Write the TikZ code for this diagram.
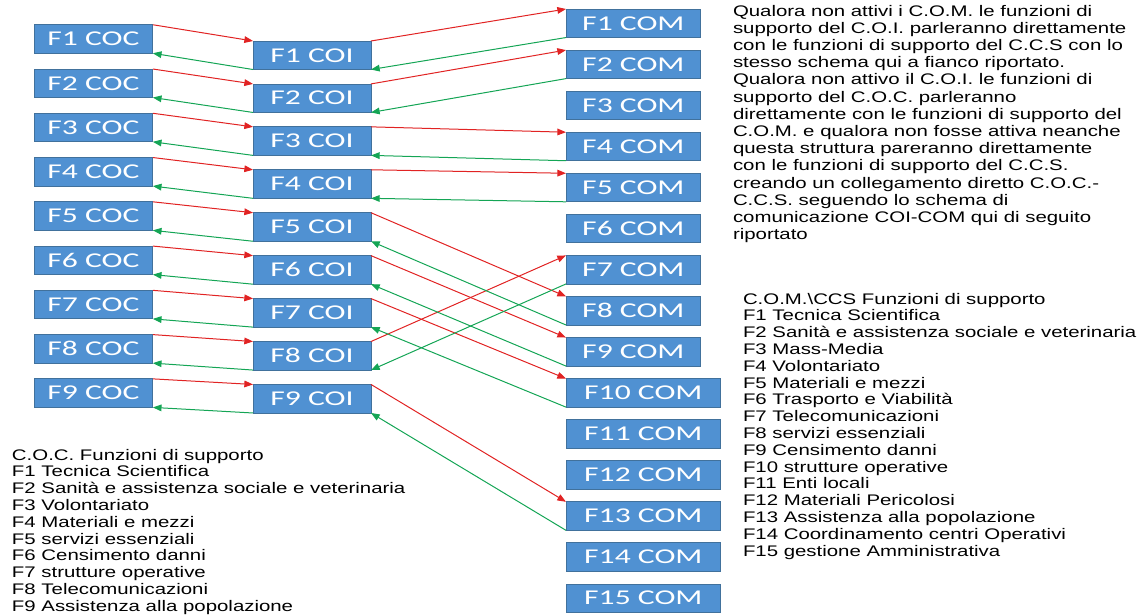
\documentclass[tikz,border=0pt]{standalone}
\usepackage{fontspec}
\setmainfont{Liberation Sans}
\newfontfamily\boxfont[FakeStretch=1.5]{Carlito}
\newfontfamily\notefont[FakeStretch=1.33]{Liberation Sans}
\usetikzlibrary{arrows.meta}
\usetikzlibrary{positioning}
\definecolor{boxblue}{RGB}{80,145,210}
\definecolor{boxline}{RGB}{65,113,156}
\definecolor{arrowred}{RGB}{225,35,35}
\definecolor{arrowgreen}{RGB}{20,165,85}

\begin{document}
\begin{tikzpicture}[
            x=0.75pt,y=-0.75pt,
            every node/.style={rectangle,inner sep=0pt,outer sep=0pt},
            fbox/.style={draw=boxline,fill=boxblue,text=white,line width=0.6pt,minimum height=21.4pt,font=\boxfont\fontsize{15.8}{18}\selectfont},
            coc box/.style={fbox,minimum width=89pt},
            coi box/.style={fbox,minimum width=88.5pt},
            com box/.style={fbox,minimum width=101pt},
            wide com box/.style={fbox,minimum width=116pt},
            note node/.style={align=left,anchor=north west,font=\notefont\fontsize{11.5}{12.6}\selectfont},
            send/.style={draw=arrowred,line width=0.75pt},
            reply/.style={draw=arrowgreen,line width=0.75pt}
        ]
        \tikzset{>={Triangle[length=6.5pt,width=5pt]}}
        \useasboundingbox (0,0) rectangle (1145,615);

        % C.O.C.
        \node [coc box] (coc 1) at (93.5,39) {F1 COC};
        \node [coc box,below=11.8pt of coc 1] (coc 2) {F2 COC};
        \node [coc box,below=11.8pt of coc 2] (coc 3) {F3 COC};
        \node [coc box,below=11.8pt of coc 3] (coc 4) {F4 COC};
        \node [coc box,below=11.8pt of coc 4] (coc 5) {F5 COC};
        \node [coc box,below=11.8pt of coc 5] (coc 6) {F6 COC};
        \node [coc box,below=11.8pt of coc 6] (coc 7) {F7 COC};
        \node [coc box,below=11.8pt of coc 7] (coc 8) {F8 COC};
        \node [coc box,below=11.8pt of coc 8] (coc 9) {F9 COC};

        % C.O.I.
        \node [coi box] (coi 1) at (312,55.25) {F1 COI};
        \node [coi box,below=10.8pt of coi 1] (coi 2) {F2 COI};
        \node [coi box,below=10.8pt of coi 2] (coi 3) {F3 COI};
        \node [coi box,below=10.8pt of coi 3] (coi 4) {F4 COI};
        \node [coi box,below=10.8pt of coi 4] (coi 5) {F5 COI};
        \node [coi box,below=10.8pt of coi 5] (coi 6) {F6 COI};
        \node [coi box,below=10.8pt of coi 6] (coi 7) {F7 COI};
        \node [coi box,below=10.8pt of coi 7] (coi 8) {F8 COI};
        \node [coi box,below=10.8pt of coi 8] (coi 9) {F9 COI};

        % C.O.M.
        \node [com box,anchor=north west] (com 1) at (566,9) {F1 COM};
        \node [com box,below=9.4pt of com 1.south west,anchor=north west] (com 2) {F2 COM};
        \node [com box,below=9.4pt of com 2.south west,anchor=north west] (com 3) {F3 COM};
        \node [com box,below=9.4pt of com 3.south west,anchor=north west] (com 4) {F4 COM};
        \node [com box,below=9.4pt of com 4.south west,anchor=north west] (com 5) {F5 COM};
        \node [com box,below=9.4pt of com 5.south west,anchor=north west] (com 6) {F6 COM};
        \node [com box,below=9.4pt of com 6.south west,anchor=north west] (com 7) {F7 COM};
        \node [com box,below=9.4pt of com 7.south west,anchor=north west] (com 8) {F8 COM};
        \node [com box,below=9.4pt of com 8.south west,anchor=north west] (com 9) {F9 COM};
        \node [wide com box,below=9.4pt of com 9.south west,anchor=north west] (com 10) {F10 COM};
        \node [wide com box,below=9.4pt of com 10.south west,anchor=north west] (com 11) {F11 COM};
        \node [wide com box,below=9.4pt of com 11.south west,anchor=north west] (com 12) {F12 COM};
        \node [wide com box,below=9.4pt of com 12.south west,anchor=north west] (com 13) {F13 COM};
        \node [wide com box,below=9.4pt of com 13.south west,anchor=north west] (com 14) {F14 COM};
        \node [wide com box,below=9.4pt of com 14.south west,anchor=north west] (com 15) {F15 COM};

        % testi
        \node [note node,font=\notefont\fontsize{11.5}{12.9}\selectfont] (note top) at (733,5) {Qualora non attivi i C.O.M. le funzioni di\\ supporto del C.O.I. parleranno direttamente\\ con le funzioni di supporto del C.C.S con lo\\ stesso schema qui a fianco riportato.\\ Qualora non attivo il C.O.I. le funzioni di\\ supporto del C.O.C. parleranno\\ direttamente con le funzioni di supporto del\\ C.O.M. e qualora non fosse attiva neanche\\ questa struttura pareranno direttamente\\ con le funzioni di supporto del C.C.S.\\ creando un collegamento diretto C.O.C.-\\ C.C.S. seguendo lo schema di\\ comunicazione COI-COM qui di seguito\\ riportato};
        \node [note node] (note com) at (743,293) {C.O.M.\textbackslash CCS Funzioni di supporto\\ F1 Tecnica Scientifica\\ F2 Sanità e assistenza sociale e veterinaria\\ F3 Mass-Media\\ F4 Volontariato\\ F5 Materiali e mezzi\\ F6 Trasporto e Viabilità\\ F7 Telecomunicazioni\\ F8 servizi essenziali\\ F9 Censimento danni\\ F10 strutture operative\\ F11 Enti locali\\ F12 Materiali Pericolosi\\ F13 Assistenza alla popolazione\\ F14 Coordinamento centri Operativi\\ F15 gestione Amministrativa};
        \node [note node] (note coc) at (12,449) {C.O.C. Funzioni di supporto\\ F1 Tecnica Scientifica\\ F2 Sanità e assistenza sociale e veterinaria\\ F3 Volontariato\\ F4 Materiali e mezzi\\ F5 servizi essenziali\\ F6 Censimento danni\\ F7 strutture operative\\ F8 Telecomunicazioni\\ F9 Assistenza alla popolazione};

        % COC <-> COI
        \draw[send,->] (coc 1.north east) -- (coi 1.north west);
        \draw[send,->] (coc 2.north east) -- (coi 2.north west);
        \draw[send,->] (coc 3.north east) -- (coi 3.north west);
        \draw[send,->] (coc 4.north east) -- (coi 4.north west);
        \draw[send,->] (coc 5.north east) -- (coi 5.north west);
        \draw[send,->] (coc 6.north east) -- (coi 6.north west);
        \draw[send,->] (coc 7.north east) -- (coi 7.north west);
        \draw[send,->] (coc 8.north east) -- (coi 8.north west);
        \draw[send,->] (coc 9.north east) -- (coi 9.north west);
        \draw[reply,->] (coi 1.south west) -- (coc 1.south east);
        \draw[reply,->] (coi 2.south west) -- (coc 2.south east);
        \draw[reply,->] (coi 3.south west) -- (coc 3.south east);
        \draw[reply,->] (coi 4.south west) -- (coc 4.south east);
        \draw[reply,->] (coi 5.south west) -- (coc 5.south east);
        \draw[reply,->] (coi 6.south west) -- (coc 6.south east);
        \draw[reply,->] (coi 7.south west) -- (coc 7.south east);
        \draw[reply,->] (coi 8.south west) -- (coc 8.south east);
        \draw[reply,->] (coi 9.south west) -- (coc 9.south east);

        % COI <-> COM
        \draw[send,->] (coi 1.north east) -- (com 1.north west);
        \draw[send,->] (coi 2.north east) -- (com 2.north west);
        \draw[send,->] (coi 3.north east) -- (com 4.north west);
        \draw[send,->] (coi 4.north east) -- (com 5.north west);
        \draw[send,->] (coi 5.north east) -- (com 8.north west);
        \draw[send,->] (coi 6.north east) -- (com 9.north west);
        \draw[send,->] (coi 7.north east) -- (com 10.north west);
        \draw[send,->] (coi 8.north east) -- (com 7.north west);
        \draw[send,->] (coi 9.north east) -- (com 13.north west);
        \draw[reply,->] (com 1.south west) -- (coi 1.south east);
        \draw[reply,->] (com 2.south west) -- (coi 2.south east);
        \draw[reply,->] (com 4.south west) -- (coi 3.south east);
        \draw[reply,->] (com 5.south west) -- (coi 4.south east);
        \draw[reply,->] (com 8.south west) -- (coi 5.south east);
        \draw[reply,->] (com 9.south west) -- (coi 6.south east);
        \draw[reply,->] (com 10.south west) -- (coi 7.south east);
        \draw[reply,->] (com 7.south west) -- (coi 8.south east);
        \draw[reply,->] (com 13.south west) -- (coi 9.south east);
    \end{tikzpicture}
\end{document}
